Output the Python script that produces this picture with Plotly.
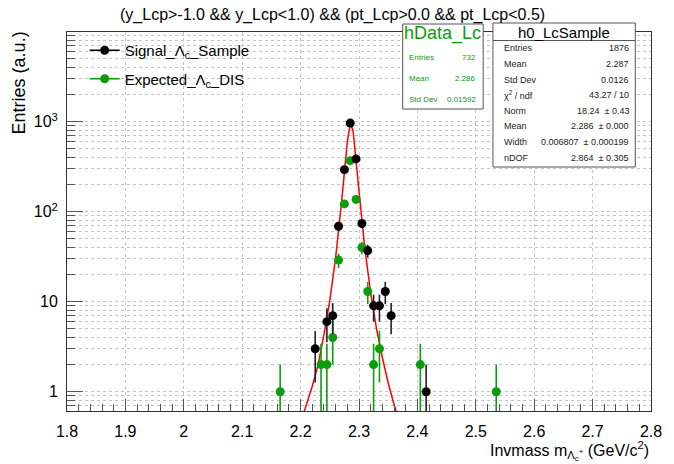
import numpy as np
import plotly.graph_objects as go

# ---------------- data ----------------
sig_x = [2.225, 2.245, 2.255, 2.265, 2.275, 2.285, 2.295, 2.305, 2.315, 2.325, 2.335, 2.345, 2.355, 2.415]
sig_y = [3, 6, 7, 69, 293, 965, 386, 74, 37, 9, 9, 13, 7, 1]

exp_x = [2.165, 2.235, 2.245, 2.255, 2.265, 2.275, 2.285, 2.295, 2.305, 2.315, 2.325, 2.335, 2.405, 2.535]
exp_y = [1, 2, 2, 4, 29, 122, 369, 137, 40, 13, 2, 3, 2, 1]

fit_x = [2.200, 2.210, 2.220, 2.230, 2.240, 2.250, 2.260, 2.270, 2.280, 2.2855, 2.290, 2.300, 2.310, 2.320, 2.330, 2.340, 2.350, 2.360, 2.370]
fit_y = [0.45, 0.70, 1.15, 2.0, 4.3, 10.3, 31, 125, 600, 975, 780, 170, 39, 12.5, 5.0, 2.4, 1.25, 0.72, 0.45]

x_ticks = [1.8, 1.9, 2.0, 2.1, 2.2, 2.3, 2.4, 2.5, 2.6, 2.7, 2.8]
x_ticktext = ["1.8", "1.9", "2", "2.1", "2.2", "2.3", "2.4", "2.5", "2.6", "2.7", "2.8"]
y_ticks = [1, 10, 100, 1000]
y_ticktext = ["1", "10", "10<sup>2</sup>", "10<sup>3</sup>"]

stat_data_labels = ["Entries", "Mean", "Std Dev"]
stat_data_values = ["732", "2.286", "0.01592"]
stat_fit_labels = ["Entries", "Mean", "Std Dev", "χ<sup>2</sup> / ndf", "Norm", "Mean", "Width", "nDOF"]
stat_fit_values = ["1876", "2.287", "0.0126", "43.27 / 10", "18.24  ± 0.43", "2.286  ± 0.000",
                   "0.006807  ± 0.000199", "2.864  ± 0.305"]

# ---------------- style ----------------
W, H = 674, 464
L, R, T, B = 67, 662, 32, 411
GREEN = "#0c9c0c"
FONT = "Liberation Sans, Arial, Helvetica, sans-serif"


def px(x):
    return (x - L) / (R - L)


def py(y):
    return (B - y) / (B - T)


fig = go.Figure()

fig.add_trace(go.Scatter(
    x=fit_x, y=fit_y, mode="lines", line=dict(color="#ff0000", width=1.5),
    showlegend=False, hoverinfo="skip"))

fig.add_trace(go.Scatter(
    x=exp_x, y=exp_y, mode="markers",
    marker=dict(color=GREEN, size=9),
    error_y=dict(type="data", array=list(np.sqrt(exp_y)), color=GREEN, thickness=1.6, width=0),
    showlegend=False))

fig.add_trace(go.Scatter(
    x=sig_x, y=sig_y, mode="markers",
    marker=dict(color="black", size=9),
    error_y=dict(type="data", array=list(np.sqrt(sig_y)), color="#222222", thickness=1.6, width=0),
    showlegend=False))

# legend entries
fig.add_trace(go.Scatter(x=[None], y=[None], mode="lines+markers",
                         line=dict(color="black", width=1.5), marker=dict(color="black", size=9),
                         name="Signal_Λ<sub>c</sub>_Sample", legendgroup="a"))
fig.add_trace(go.Scatter(x=[None], y=[None], mode="lines+markers",
                         line=dict(color=GREEN, width=1.5), marker=dict(color=GREEN, size=9),
                         name="Expected_Λ<sub>c</sub>_DIS", legendgroup="b"))

GRID = "#c4c4c4"

fig.update_xaxes(
    range=[1.8, 2.8], tickmode="array", tickvals=x_ticks, ticktext=x_ticktext,
    ticks="inside", ticklen=12, tickcolor="#555", tickwidth=1, ticklabelstandoff=6,
    showgrid=True, gridcolor=GRID, griddash="dot", gridwidth=1,
    minor=dict(dtick=0.02, tick0=1.8, ticks="inside", ticklen=7, tickcolor="#555", showgrid=False),
    showline=True, linecolor="#333", linewidth=1, mirror=True, zeroline=False,
    tickfont=dict(family=FONT, size=16, color="black"))

minor_y = []
for d in [1, 10, 100, 1000]:
    for k in range(2, 10):
        minor_y.append(k * d)
minor_y = [0.7, 0.8, 0.9] + minor_y

fig.update_yaxes(
    type="log", range=[-0.2144, 3.9967], tickmode="array", tickvals=y_ticks, ticktext=y_ticktext,
    ticks="inside", ticklen=16, tickcolor="#555", tickwidth=1, ticklabelstandoff=5,
    showgrid=True, gridcolor=GRID, griddash="dot", gridwidth=1,
    minor=dict(tickmode="array", tickvals=minor_y, ticks="inside", ticklen=8, tickcolor="#555",
               showgrid=True, gridcolor=GRID, griddash="dot", gridwidth=1),
    showline=True, linecolor="#333", linewidth=1, mirror=True, zeroline=False,
    tickfont=dict(family=FONT, size=16, color="black"))

shapes = []
ann = []

# title
ann.append(dict(x=px(337), xref="paper", y=py(15), yref="paper",
                text="(y_Lcp&gt;-1.0 &amp;&amp; y_Lcp&lt;1.0) &amp;&amp; (pt_Lcp&gt;0.0 &amp;&amp; pt_Lcp&lt;0.5)",
                showarrow=False, xanchor="center", yanchor="middle", font=dict(family=FONT, size=16, color="black")))

# axis titles
ann.append(dict(x=px(18), y=py(29), xref="paper", yref="paper", text="Entries (a.u.)", textangle=-90,
                showarrow=False, xanchor="center", yanchor="top", font=dict(family=FONT, size=18, color="black")))
ann.append(dict(x=px(662), y=py(451), xref="paper", yref="paper",
                text="Invmass m<sub>Λ<sub>c</sub><sup>+</sup></sub> (GeV/c<sup>2</sup>)",
                showarrow=False, xanchor="right", yanchor="middle", font=dict(family=FONT, size=16, color="black")))

# stat box 1 (hData_Lc)
bx0, bx1, by0, by1 = 409, 491, 24, 109
shapes.append(dict(type="rect", xref="paper", yref="paper", x0=px(bx0), x1=px(bx1), y0=py(by1), y1=py(by0),
                   fillcolor="white", line=dict(color="#555", width=1), layer="above"))
ann.append(dict(x=px(450), y=py(34), xref="paper", yref="paper", text="hData_Lc", showarrow=False,
                xanchor="center", yanchor="middle", font=dict(family=FONT, size=18, color=GREEN)))
for i, (lab, val) in enumerate(zip(stat_data_labels, stat_data_values)):
    yy = py(57 + i * 21.3)
    ann.append(dict(x=px(413), y=yy, xref="paper", yref="paper", text=lab, showarrow=False,
                    xanchor="left", yanchor="middle", font=dict(family=FONT, size=8, color=GREEN)))
    ann.append(dict(x=px(486), y=yy, xref="paper", yref="paper", text=val, showarrow=False,
                    xanchor="right", yanchor="middle", font=dict(family=FONT, size=8, color=GREEN)))

# stat box 2 (h0_LcSample)
cx0, cx1, cy0, cy1 = 501, 646, 23, 167
shapes.append(dict(type="rect", xref="paper", yref="paper", x0=px(cx0), x1=px(cx1), y0=py(cy1), y1=py(cy0),
                   fillcolor="white", line=dict(color="#555", width=1), layer="above"))
shapes.append(dict(type="line", xref="paper", yref="paper", x0=px(cx0), x1=px(cx1), y0=py(40.5), y1=py(40.5),
                   line=dict(color="#555", width=1), layer="above"))
ann.append(dict(x=px(573.5), y=py(32), xref="paper", yref="paper", text="h0_LcSample", showarrow=False,
                xanchor="center", yanchor="middle", font=dict(family=FONT, size=15, color="black")))
for i, (lab, val) in enumerate(zip(stat_fit_labels, stat_fit_values)):
    yy = py(48.3 + i * 15.6)
    ann.append(dict(x=px(510), y=yy, xref="paper", yref="paper", text=lab, showarrow=False,
                    xanchor="left", yanchor="middle", font=dict(family=FONT, size=9, color="#222")))
    ann.append(dict(x=px(642), y=yy, xref="paper", yref="paper", text=val, showarrow=False,
                    xanchor="right", yanchor="middle", font=dict(family=FONT, size=9, color="#222")))

fig.update_layout(
    width=W, height=H,
    margin=dict(l=L, r=W - R, t=T, b=H - B),
    paper_bgcolor="white", plot_bgcolor="white",
    font=dict(family=FONT, color="black"),
    showlegend=True,
    legend=dict(x=px(85), y=py(34), xanchor="left", yanchor="top", bgcolor="rgba(0,0,0,0)",
                font=dict(family=FONT, size=15, color="black"), tracegroupgap=6, itemwidth=30),
    shapes=shapes, annotations=ann,
)

fig.write_html("out.html")
